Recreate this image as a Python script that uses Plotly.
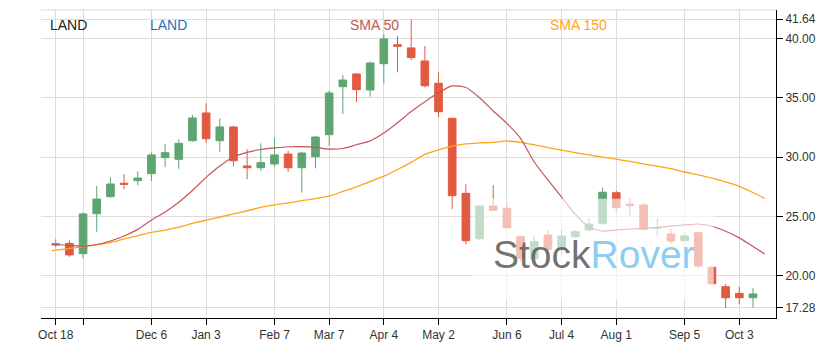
import plotly.graph_objects as go
import pandas as pd

# ---------------- data ----------------
week_start = "2021-10-18"
n_weeks = 52
dates = pd.date_range(week_start, periods=n_weeks, freq="7D")

opens = [22.59, 22.73, 21.86, 25.23, 26.67, 27.80, 28.02, 28.61, 29.96, 29.82,
         31.39, 33.73, 31.39, 32.55, 29.26, 29.11, 29.43, 30.27, 29.11, 30.04,
         31.90, 35.95, 37.02, 35.67, 37.89, 39.49, 39.22, 38.12, 36.24, 33.28,
         26.95, 23.12, 25.88, 25.69, 23.29, 21.43, 23.43, 22.23, 23.29, 23.86,
         24.42, 27.00, 26.03, 25.97, 24.00, 23.52, 22.95, 23.63, 20.71, 19.07,
         18.51, 18.14]
highs = [23.07, 23.00, 25.32, 27.57, 28.30, 28.58, 28.81, 30.38, 31.11, 31.51,
         33.56, 34.55, 33.28, 32.66, 30.67, 31.17, 31.65, 30.55, 30.45, 31.79,
         35.61, 36.94, 37.10, 38.06, 40.40, 40.25, 41.64, 39.38, 37.16, 33.33,
         27.71, 25.88, 27.63, 26.25, 23.35, 23.35, 23.86, 23.86, 23.86, 24.84,
         27.43, 27.15, 26.50, 26.16, 24.84, 23.97, 23.58, 23.71, 20.82, 19.30,
         19.07, 18.94]
lows = [22.40, 21.60, 21.47, 23.71, 26.58, 27.29, 27.63, 27.99, 29.15, 29.03,
        31.31, 31.22, 30.46, 29.23, 28.14, 28.86, 29.20, 28.73, 27.00, 29.06,
        30.97, 33.65, 34.63, 35.11, 36.24, 37.16, 38.20, 35.90, 33.37, 25.63,
        22.65, 23.01, 25.50, 23.94, 21.16, 21.32, 22.00, 21.75, 23.18, 23.69,
        24.28, 25.32, 25.06, 23.80, 23.35, 22.70, 22.84, 20.67, 19.21, 17.28,
        17.59, 17.30]
closes = [22.70, 21.75, 25.21, 26.47, 27.74, 27.71, 28.24, 30.19, 30.38, 31.17,
          33.31, 31.56, 32.55, 29.70, 29.11, 29.54, 30.19, 29.11, 30.35, 31.70,
          35.42, 36.51, 35.70, 37.95, 39.97, 39.36, 38.40, 36.03, 33.84, 26.75,
          22.95, 25.88, 25.52, 24.05, 21.47, 22.87, 22.23, 23.35, 23.71, 24.36,
          27.04, 25.74, 25.94, 23.92, 24.05, 22.93, 23.35, 20.82, 19.32, 18.14,
          18.14, 18.46]

sma_start = "2021-10-16"
sma_end = "2022-10-16"
sma50 = [22.65, 22.62, 22.56, 22.48, 22.63, 22.93, 23.35, 23.91, 24.68, 25.37,
         26.20, 27.19, 28.30, 29.26, 30.02, 30.41, 30.65, 30.78, 30.88, 30.89,
         30.83, 30.68, 30.73, 31.05, 31.38, 32.04, 32.91, 33.85, 34.68, 35.43,
         36.01, 35.88, 35.02, 33.90, 32.85, 31.59, 29.59, 28.08, 26.64, 25.19,
         24.11, 23.76, 23.86, 23.94, 24.00, 24.07, 24.19, 24.28, 24.36, 24.17,
         23.75, 23.19, 22.46, 21.83]
sma150 = [22.10, 22.15, 22.30, 22.45, 22.61, 22.80, 23.10, 23.38, 23.65, 23.85,
          24.10, 24.41, 24.69, 24.95, 25.21, 25.48, 25.77, 25.97, 26.14, 26.33,
          26.51, 26.71, 27.11, 27.50, 27.95, 28.40, 28.96, 29.56, 30.23, 30.62,
          30.94, 31.13, 31.20, 31.25, 31.37, 31.25, 31.04, 30.81, 30.59, 30.38,
          30.19, 30.01, 29.83, 29.64, 29.43, 29.24, 29.04, 28.75, 28.50, 28.23,
          27.92, 27.54, 27.02, 26.53]
sma_dates = [pd.Timestamp(sma_start)] + list(dates) + [pd.Timestamp(sma_end)]

x_tick_dates = ["2021-10-18", "2021-11-01", "2021-12-06", "2022-01-03", "2022-02-07",
                "2022-03-07", "2022-04-04", "2022-05-02", "2022-06-06", "2022-07-04",
                "2022-08-01", "2022-09-05", "2022-10-03"]
x_tick_text = ["Oct 18", "", "Dec 6", "Jan 3", "Feb 7", "Mar 7", "Apr 4", "May 2",
               "Jun 6", "Jul 4", "Aug 1", "Sep 5", "Oct 3"]
y_tick_vals = [17.28, 20, 25, 30, 35, 40, 41.64]
y_tick_text = ["17.28", "20.00", "25.00", "30.00", "35.00", "40.00", "41.64"]

GREEN = "#5ea572"
RED = "#e25a41"
SMA50_COLOR = "#c4565a"
SMA150_COLOR = "#ffa31a"

fig = go.Figure()
fig.add_trace(go.Candlestick(
    x=dates, open=opens, high=highs, low=lows, close=closes,
    increasing=dict(line=dict(color=GREEN, width=1), fillcolor=GREEN),
    decreasing=dict(line=dict(color=RED, width=1), fillcolor=RED),
    whiskerwidth=0, hoverinfo="skip", showlegend=False,
))
fig.add_trace(go.Scatter(x=sma_dates, y=sma150, mode="lines",
                         line=dict(color=SMA150_COLOR, width=1.3, shape="spline", smoothing=0.6),
                         hoverinfo="skip", showlegend=False))
fig.add_trace(go.Scatter(x=sma_dates, y=sma50, mode="lines",
                         line=dict(color=SMA50_COLOR, width=1.2, shape="spline", smoothing=0.6),
                         hoverinfo="skip", showlegend=False))

# watermark fade area + text
fig.add_shape(type="rect", xref="x", yref="y",
              x0="2022-05-19 17:00", x1="2022-09-19 22:00", y0=17.95, y1=26.50,
              fillcolor="rgba(255,255,255,0.62)", line=dict(width=0), layer="above")
fig.add_annotation(xref="paper", yref="paper", x=0.752, y=0.205, xanchor="center", yanchor="middle",
                   text="<span style='color:rgba(90,90,90,0.85)'>Stock</span><span style='color:#8ecdf2'>Rover</span>",
                   showarrow=False, font=dict(family="Liberation Sans, Arial", size=39))

# top border line
fig.add_shape(type="line", xref="paper", yref="paper", x0=0, x1=1, y0=1, y1=1,
              line=dict(color="#dcdcdc", width=1))

# header labels
labels = [("LAND", "#222222", 0.010), ("LAND", "#2e6fb3", 0.146),
          ("SMA 50", "#c4565a", 0.418), ("SMA 150", "#ffa31a", 0.690)]
for txt, col, xp in labels:
    fig.add_annotation(xref="paper", yref="paper", x=xp, y=0.951, xanchor="left", yanchor="middle",
                       text=txt, showarrow=False,
                       font=dict(family="Liberation Sans, Arial", size=14, color=col))

fig.update_layout(
    width=835, height=352,
    margin=dict(l=41, r=59, t=10, b=34),
    paper_bgcolor="white", plot_bgcolor="white",
    boxgap=0.2,
    font=dict(family="Liberation Sans, Arial", size=12, color="#333333"),
    xaxis=dict(
        type="date", range=["2021-10-10 11:00", "2022-10-21 19:00"],
        rangeslider=dict(visible=False),
        tickmode="array", tickvals=x_tick_dates, ticktext=x_tick_text,
        showgrid=True, gridcolor="#dcdcdc", gridwidth=1,
        showline=True, linecolor="black", linewidth=1,
        ticks="outside", ticklen=6, tickcolor="black",
        zeroline=False, fixedrange=True,
    ),
    yaxis=dict(
        side="right", range=[16.43, 42.42],
        tickmode="array", tickvals=y_tick_vals, ticktext=y_tick_text,
        showgrid=True, gridcolor="#dcdcdc", gridwidth=1,
        showline=True, linecolor="black", linewidth=1,
        ticks="outside", ticklen=6, tickcolor="black",
        zeroline=False, fixedrange=True,
    ),
    hovermode=False,
)

fig.write_html("out.html")
